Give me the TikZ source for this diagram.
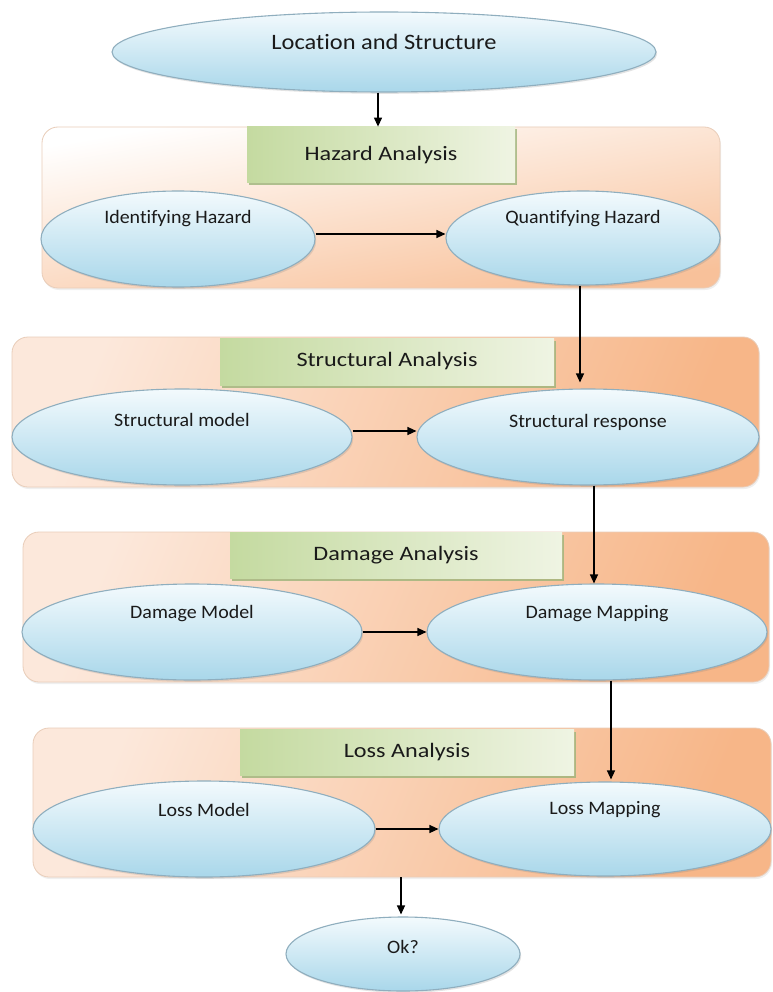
\documentclass[tikz,border=0pt]{standalone}
\usepackage{fontspec}
\setmainfont{Carlito}[Ligatures=NoCommon]
\newfontfamily\fLoc[FakeStretch=1.11,Ligatures=NoCommon]{Carlito}
\newfontfamily\fSec[FakeStretch=1.18,Ligatures=NoCommon]{Carlito}
\newfontfamily\fEll[FakeStretch=1.05,Ligatures=NoCommon]{Carlito}
\usetikzlibrary{shapes.geometric,arrows.meta,shadows}
\definecolor{ellTop}{HTML}{F3FAFD}
\definecolor{ellBot}{HTML}{A9D7EA}
\definecolor{ellLine}{HTML}{8FAEBE}
\definecolor{grpLight}{HTML}{FCE8DB}
\definecolor{grpDark}{HTML}{F7B688}
\definecolor{grpLine}{HTML}{E9CDB9}
\definecolor{grnA}{HTML}{C4DAA0}
\definecolor{grnB}{HTML}{EFF4E3}
\definecolor{grnShadow}{HTML}{9CB47A}
\definecolor{txt}{HTML}{1A1A1A}
\tikzset{
  elli/.style={ellipse, draw=ellLine, line width=1.1pt, top color=ellTop, bottom color=ellBot,
    inner sep=0pt, drop shadow={shadow xshift=1.2pt, shadow yshift=-1.8pt, opacity=0.22}},
  grp/.style={rectangle, rounded corners=16pt, draw=grpLine, line width=0.8pt, inner sep=0pt,
    top color=grpLight, bottom color=grpDark, shading angle=68,
    drop shadow={shadow xshift=1pt, shadow yshift=-2pt, opacity=0.12}},
  grphaz/.style={grp, top color=white, bottom color=grpDark!85, shading angle=10},
  seclab/.style={rectangle, inner sep=0pt, left color=grnA, right color=grnB,
    drop shadow={shadow xshift=2pt, shadow yshift=-2.5pt, fill=grnShadow, opacity=0.8},
    font=\fSec\fontsize{20.5}{24}\selectfont, text=txt},
  etext/.style={inner sep=0pt, font=\fEll\fontsize{19}{23}\selectfont, text=txt},
  arr/.style={-{Triangle[length=9pt,width=8pt]}, line width=1.2pt, black},
}
\begin{document}
\begin{tikzpicture}[x=1pt,y=-1pt]
\useasboundingbox (0,0) rectangle (772,992);
\fill[white] (0,0) rectangle (772,992);

% group boxes
\node[grphaz, minimum width=678, minimum height=161] (hz) at (381,207.5) {};
\node[grp, minimum width=747, minimum height=150] (st) at (385.5,412) {};
\node[grp, minimum width=746, minimum height=150] (dm) at (396,607) {};
\node[grp, minimum width=738, minimum height=149] (ls) at (402,802.5) {};

% section labels
\node[seclab, minimum width=268, minimum height=56] (hzl) at (381,155) {Hazard Analysis};
\node[seclab, minimum width=334, minimum height=47] (stl) at (387,361.5) {Structural Analysis};
\node[seclab, minimum width=332, minimum height=46] (dml) at (396,555) {Damage Analysis};
\node[seclab, minimum width=334, minimum height=46] (lsl) at (407,752) {Loss Analysis};

% ellipses
\node[elli, minimum width=544, minimum height=80] (loc) at (384,52) {};
\node[inner sep=0pt, font=\fLoc\fontsize{22}{26}\selectfont, text=txt] (loct) at ([yshift=10pt]loc.center) {Location and Structure};

\node[elli, minimum width=274, minimum height=96] (idh) at (178,239) {};
\node[etext] (idht) at ([yshift=20pt]idh.center) {Identifying Hazard};
\node[elli, minimum width=274, minimum height=94] (qh) at (583,238) {};
\node[etext] (qht) at ([yshift=19pt]qh.center) {Quantifying Hazard};

\node[elli, minimum width=340, minimum height=96] (sm) at (182,437) {};
\node[etext] (smt) at ([yshift=17pt]sm.center) {Structural model};
\node[elli, minimum width=342, minimum height=96] (sr) at (588,437) {};
\node[etext] (srt) at ([yshift=15pt]sr.center) {Structural response};

\node[elli, minimum width=340, minimum height=96] (dmm) at (192,632) {};
\node[etext] (dmmt) at ([yshift=18pt]dmm.center) {Damage Model};
\node[elli, minimum width=340, minimum height=96] (dmp) at (597,632) {};
\node[etext] (dmpt) at ([yshift=18pt]dmp.center) {Damage Mapping};

\node[elli, minimum width=342, minimum height=96] (lm) at (204,829) {};
\node[etext] (lmt) at ([yshift=19pt]lm.center) {Loss Model};
\node[elli, minimum width=332, minimum height=94] (lp) at (605,829) {};
\node[etext] (lpt) at ([yshift=19pt]lp.center) {Loss Mapping};

\node[elli, minimum width=234, minimum height=74] (ok) at (403,954) {};
\node[etext] (okt) at ([yshift=7pt]ok.center) {Ok?};

% connector columns
\coordinate (c0) at (378,0);
\coordinate (c1) at (580,0);
\coordinate (c2) at (594,0);
\coordinate (c3) at (611,0);
\coordinate (c4) at (401,0);

% arrows
\draw[arr] (loc.south -| c0) -- (hz.north -| c0);
\draw[arr] ([yshift=5pt]idh.east) -- ([yshift=5pt]idh.east -| qh.west);
\draw[arr] (qh.south -| c1) -- ([yshift=6pt]sr.north -| c1);
\draw[arr] ([yshift=6pt]sm.east) -- ([yshift=6pt]sm.east -| sr.west);
\draw[arr] (sr.south -| c2) -- (dmp.north -| c2);
\draw[arr] (dmm.east) -- (dmm.east -| dmp.west);
\draw[arr] (dmp.south -| c3) -- ([yshift=2pt]lp.north -| c3);
\draw[arr] (lm.east) -- (lm.east -| lp.west);
\draw[arr] (ls.south -| c4) -- ([yshift=2pt]ok.north -| c4);
\end{tikzpicture}
\end{document}
